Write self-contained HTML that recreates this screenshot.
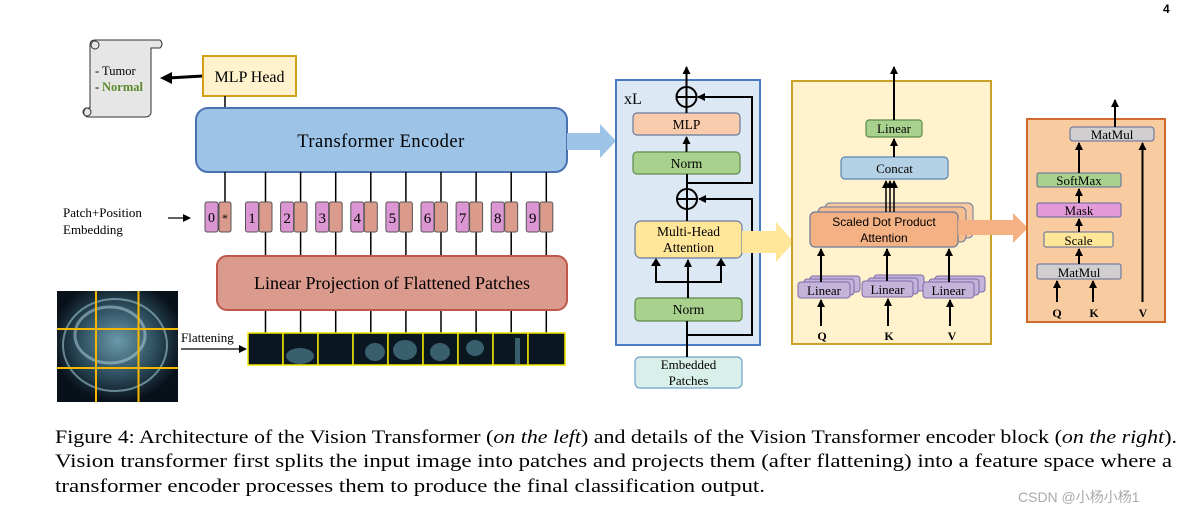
<!DOCTYPE html>
<html><head><meta charset="utf-8"><style>
html,body{margin:0;padding:0;background:#fff;}
svg{display:block;}
text{font-family:"Liberation Serif",serif;}
text.s{font-family:"Liberation Sans","Noto Sans CJK SC",sans-serif;}
</style></head><body>
<svg width="1190" height="514" viewBox="0 0 1190 514" xmlns="http://www.w3.org/2000/svg">
<defs>
<marker id="ah" markerWidth="8" markerHeight="8" refX="7" refY="4" orient="auto" markerUnits="userSpaceOnUse"><path d="M0,0 L8,4 L0,8 z" fill="#000"/></marker>
<radialGradient id="brain" cx="0.5" cy="0.45" r="0.55"><stop offset="0" stop-color="#6a9aab"/><stop offset="0.6" stop-color="#2b4a5a"/><stop offset="1" stop-color="#08111a"/></radialGradient>
</defs>
<text class="s" x="1163" y="13" font-size="12" font-weight="bold">4</text>

<path d="M95,40 L160,40 Q164,44 160,48 L151,48 L151,113 Q150,117 145,117 L87,117 Q81,113 86,108 L90,108 L90,45 Q90,40 95,40 z" fill="#e6e6e6" stroke="#333" stroke-width="1"/>
<circle cx="95" cy="45" r="4" fill="none" stroke="#333"/><circle cx="87" cy="112" r="4" fill="none" stroke="#333"/>
<text x="95" y="75" font-size="12.5">- Tumor</text>
<text x="95" y="91" font-size="12.5">- </text><text x="102" y="91" font-size="12.5" font-weight="bold" fill="#5a8a2a">Normal</text>
<line x1="203" y1="76" x2="168" y2="78" stroke="#000" stroke-width="3"/>
<path d="M160,78 L172,72 L172,84 z" fill="#000"/>
<rect x="203" y="56" width="93" height="40" fill="#fff2cc" stroke="#d4a017" stroke-width="2"/>
<text x="249.5" y="82" font-size="16" text-anchor="middle">MLP Head</text>
<line x1="225" y1="96" x2="225" y2="108" stroke="#000" stroke-width="1.5"/>
<rect x="196" y="108" width="371" height="64" rx="12" fill="#9dc3e6" stroke="#4a72b0" stroke-width="2"/>
<text x="381" y="147" font-size="18.5" text-anchor="middle" letter-spacing="0.5">Transformer Encoder</text>
<path d="M567,133 L600,133 L600,124 L616,141 L600,158 L600,150 L567,150 z" fill="#9dc3e6"/>
<g stroke="#000" stroke-width="1.5">
<line x1="225" y1="172" x2="225" y2="202"/>
<line x1="265.5" y1="172" x2="265.5" y2="333"/><line x1="300.6" y1="172" x2="300.6" y2="333"/><line x1="335.7" y1="172" x2="335.7" y2="333"/><line x1="370.8" y1="172" x2="370.8" y2="333"/><line x1="405.9" y1="172" x2="405.9" y2="333"/><line x1="441" y1="172" x2="441" y2="333"/><line x1="476.1" y1="172" x2="476.1" y2="333"/><line x1="511.2" y1="172" x2="511.2" y2="333"/><line x1="546.3" y1="172" x2="546.3" y2="333"/>
</g>
<g stroke="#555" stroke-width="1">
<rect x="205" y="202" width="13" height="30" rx="2" fill="#dc96d4"/><rect x="219" y="202" width="12" height="30" rx="2" fill="#da9a8c"/>
</g>
<text x="211.5" y="222" font-size="14" text-anchor="middle">0</text><text x="225" y="222" font-size="12" text-anchor="middle">*</text>
<g stroke="#555" stroke-width="1">
<rect x="245.5" y="202" width="13" height="30" rx="2" fill="#dc96d4"/><rect x="259" y="202" width="13" height="30" rx="2" fill="#da9a8c"/>
<rect x="280.6" y="202" width="13" height="30" rx="2" fill="#dc96d4"/><rect x="294.1" y="202" width="13" height="30" rx="2" fill="#da9a8c"/>
<rect x="315.7" y="202" width="13" height="30" rx="2" fill="#dc96d4"/><rect x="329.2" y="202" width="13" height="30" rx="2" fill="#da9a8c"/>
<rect x="350.8" y="202" width="13" height="30" rx="2" fill="#dc96d4"/><rect x="364.3" y="202" width="13" height="30" rx="2" fill="#da9a8c"/>
<rect x="385.9" y="202" width="13" height="30" rx="2" fill="#dc96d4"/><rect x="399.4" y="202" width="13" height="30" rx="2" fill="#da9a8c"/>
<rect x="421" y="202" width="13" height="30" rx="2" fill="#dc96d4"/><rect x="434.5" y="202" width="13" height="30" rx="2" fill="#da9a8c"/>
<rect x="456.1" y="202" width="13" height="30" rx="2" fill="#dc96d4"/><rect x="469.6" y="202" width="13" height="30" rx="2" fill="#da9a8c"/>
<rect x="491.2" y="202" width="13" height="30" rx="2" fill="#dc96d4"/><rect x="504.7" y="202" width="13" height="30" rx="2" fill="#da9a8c"/>
<rect x="526.3" y="202" width="13" height="30" rx="2" fill="#dc96d4"/><rect x="539.8" y="202" width="13" height="30" rx="2" fill="#da9a8c"/>
</g>
<g font-size="15" text-anchor="middle">
<text x="252" y="223">1</text><text x="287.1" y="223">2</text><text x="322.2" y="223">3</text><text x="357.3" y="223">4</text><text x="392.4" y="223">5</text><text x="427.5" y="223">6</text><text x="462.6" y="223">7</text><text x="497.7" y="223">8</text><text x="532.8" y="223">9</text>
</g>
<text x="63" y="217" font-size="13">Patch+Position</text>
<text x="63" y="234" font-size="13">Embedding</text>
<line x1="168" y1="218" x2="190" y2="218" stroke="#000" stroke-width="1.3" marker-end="url(#ah)"/>
<rect x="217" y="256" width="350" height="54" rx="10" fill="#da9a8e" stroke="#c0574a" stroke-width="2"/>
<text x="392" y="289" font-size="18" text-anchor="middle">Linear Projection of Flattened Patches</text>
<rect x="57" y="291" width="121" height="111" fill="url(#brain)"/>
<ellipse cx="115" cy="345" rx="52" ry="46" fill="none" stroke="#9cc7d4" stroke-width="2" opacity="0.6"/>
<ellipse cx="110" cy="335" rx="35" ry="28" fill="none" stroke="#b7d8e2" stroke-width="3" opacity="0.5"/>
<g stroke="#f5b800" stroke-width="2"><line x1="96" y1="291" x2="96" y2="402"/><line x1="138.5" y1="291" x2="138.5" y2="402"/><line x1="57" y1="329" x2="178" y2="329"/><line x1="57" y1="368" x2="178" y2="368"/></g>
<text x="181" y="342" font-size="13">Flattening</text>
<line x1="181" y1="349" x2="246" y2="349" stroke="#000" stroke-width="1.3" marker-end="url(#ah)"/>
<g fill="#0a1620" stroke="#f2e600" stroke-width="1.5">
<rect x="248" y="333" width="35" height="32"/><rect x="283" y="333" width="35" height="32"/><rect x="318" y="333" width="35" height="32"/><rect x="353" y="333" width="35" height="32"/><rect x="388" y="333" width="35" height="32"/><rect x="423" y="333" width="35" height="32"/><rect x="458" y="333" width="35" height="32"/><rect x="493" y="333" width="35" height="32"/><rect x="528" y="333" width="37" height="32"/>
</g>
<g fill="#4d7f90" opacity="0.7"><ellipse cx="300" cy="356" rx="14" ry="8"/><ellipse cx="405" cy="350" rx="12" ry="10"/><ellipse cx="440" cy="352" rx="10" ry="9"/><ellipse cx="475" cy="348" rx="9" ry="8"/><rect x="515" y="338" width="5" height="26"/><ellipse cx="375" cy="352" rx="10" ry="9"/></g>

<rect x="616" y="80" width="144" height="265" fill="#dde8f5" stroke="#4a7cc4" stroke-width="2"/>
<text x="624" y="104" font-size="16">xL</text>
<rect x="633" y="113" width="107" height="22" rx="4" fill="#f8cbad" stroke="#6a7a9a" stroke-width="1.2"/>
<text x="686.5" y="129" font-size="13.5" text-anchor="middle">MLP</text>
<rect x="633" y="152" width="107" height="22" rx="4" fill="#a9d18e" stroke="#5d8a4a" stroke-width="1.2"/>
<text x="686.5" y="168" font-size="13.5" text-anchor="middle">Norm</text>
<rect x="635" y="221" width="107" height="37" rx="6" fill="#ffe699" stroke="#6a7a9a" stroke-width="1.2"/>
<text x="688.5" y="236" font-size="13.5" text-anchor="middle">Multi-Head</text>
<text x="688.5" y="252" font-size="13.5" text-anchor="middle">Attention</text>
<rect x="635" y="298" width="107" height="23" rx="4" fill="#a9d18e" stroke="#5d8a4a" stroke-width="1.2"/>
<text x="688.5" y="314" font-size="13.5" text-anchor="middle">Norm</text>
<rect x="635" y="357" width="107" height="31" rx="5" fill="#d9efe9" stroke="#6fa0c8" stroke-width="1.2"/>
<text x="688.5" y="369" font-size="13" text-anchor="middle">Embedded</text>
<text x="688.5" y="385" font-size="13" text-anchor="middle">Patches</text>
<g stroke="#000" stroke-width="2" fill="none">
<circle cx="686.5" cy="97" r="10"/><line x1="676.5" y1="97" x2="696.5" y2="97"/><line x1="686.5" y1="87" x2="686.5" y2="107"/>
<circle cx="687" cy="199" r="10"/><line x1="677" y1="199" x2="697" y2="199"/><line x1="687" y1="189" x2="687" y2="209"/>
<line x1="686.5" y1="87" x2="686.5" y2="67" marker-end="url(#ah)"/>
<line x1="686.5" y1="113" x2="686.5" y2="107"/>
<line x1="686.5" y1="152" x2="686.5" y2="137" marker-end="url(#ah)"/>
<line x1="687" y1="174" x2="687" y2="189"/>
<polyline points="687,183 752,183 752,97 698,97" marker-end="url(#ah)"/>
<line x1="687" y1="209" x2="687" y2="221"/>
<line x1="687" y1="357" x2="687" y2="321"/>
<polyline points="687,335 752,335 752,199 699,199" marker-end="url(#ah)"/>
<line x1="688" y1="298" x2="688" y2="260" marker-end="url(#ah)"/>
<polyline points="656,262 656,282 721,282 721,262"/>
</g>
<path d="M656,258 L651,266 L661,266 z M721,258 L716,266 L726,266 z" fill="#000"/>
<path d="M742,231 L776,231 L776,222 L794,242 L776,262 L776,253 L742,253 z" fill="#ffe699"/>

<rect x="792" y="81" width="199" height="263" fill="#fff2cc" stroke="#c9a227" stroke-width="2"/>
<rect x="866" y="120" width="56" height="17" rx="3" fill="#a9d18e" stroke="#5d8a4a" stroke-width="1.2"/>
<text x="894" y="133" font-size="13" text-anchor="middle">Linear</text>
<rect x="841" y="157" width="107" height="22" rx="4" fill="#b4d0e4" stroke="#5a85b5" stroke-width="1.2"/>
<text x="894.5" y="173" font-size="13" text-anchor="middle">Concat</text>
<rect x="825" y="203" width="148" height="35" rx="5" fill="#f8c9a0" stroke="#6a7a9a" stroke-width="1"/>
<rect x="818" y="207" width="148" height="35" rx="5" fill="#f6bd8f" stroke="#6a7a9a" stroke-width="1"/>
<rect x="810" y="212" width="148" height="35" rx="5" fill="#f4b183" stroke="#6a7a9a" stroke-width="1.2"/>
<text class="s" x="884" y="226" font-size="12" text-anchor="middle">Scaled Dot Product</text>
<text class="s" x="884" y="242" font-size="12" text-anchor="middle">Attention</text>
<g fill="#c5b4d9" stroke="#7b6aa8" stroke-width="1">
<rect x="810" y="276" width="50" height="16" rx="3"/><rect x="804" y="279" width="50" height="16" rx="3"/><rect x="798" y="282" width="52" height="16" rx="3"/>
<rect x="874" y="275" width="50" height="16" rx="3"/><rect x="868" y="278" width="50" height="16" rx="3"/><rect x="862" y="281" width="51" height="16" rx="3"/>
<rect x="935" y="276" width="50" height="16" rx="3"/><rect x="929" y="279" width="50" height="16" rx="3"/><rect x="923" y="282" width="51" height="16" rx="3"/>
</g>
<g font-size="13" text-anchor="middle"><text x="824" y="295">Linear</text><text x="887.5" y="294">Linear</text><text x="948.5" y="295">Linear</text></g>
<g font-size="12" font-weight="bold" text-anchor="middle"><text x="822" y="340">Q</text><text x="889" y="340">K</text><text x="952" y="340">V</text></g>
<g stroke="#000" stroke-width="2" fill="none">
<line x1="894" y1="120" x2="894" y2="67" marker-end="url(#ah)"/>
<line x1="894" y1="157" x2="894" y2="139" marker-end="url(#ah)"/>
<line x1="886" y1="212" x2="886" y2="181" marker-end="url(#ah)" stroke-width="1.5"/>
<line x1="890" y1="212" x2="890" y2="181" marker-end="url(#ah)" stroke-width="1.5"/>
<line x1="894" y1="212" x2="894" y2="181" marker-end="url(#ah)" stroke-width="1.5"/>
<line x1="821" y1="282" x2="821" y2="249" marker-end="url(#ah)"/>
<line x1="887" y1="281" x2="887" y2="249" marker-end="url(#ah)"/>
<line x1="949" y1="282" x2="949" y2="249" marker-end="url(#ah)"/>
<line x1="821" y1="326" x2="821" y2="300" marker-end="url(#ah)"/>
<line x1="888" y1="326" x2="888" y2="299" marker-end="url(#ah)"/>
<line x1="950" y1="326" x2="950" y2="300" marker-end="url(#ah)"/>
</g>
<path d="M958,220 L1013,220 L1013,213 L1028,228 L1013,243 L1013,235 L958,235 z" fill="#f4b183"/>

<rect x="1027" y="119" width="138" height="203" fill="#f8cba0" stroke="#d06a2c" stroke-width="2"/>
<rect x="1070" y="127" width="84" height="14" rx="3" fill="#d0cece" stroke="#5a6a9a" stroke-width="1"/>
<text x="1112" y="139" font-size="13" text-anchor="middle">MatMul</text>
<rect x="1037" y="173" width="84" height="14" rx="2" fill="#a9d18e" stroke="#5a6a9a" stroke-width="1"/>
<text x="1079" y="185" font-size="13" text-anchor="middle">SoftMax</text>
<rect x="1037" y="203" width="84" height="14" rx="2" fill="#e39ad8" stroke="#5a6a9a" stroke-width="1"/>
<text x="1079" y="215" font-size="13" text-anchor="middle">Mask</text>
<rect x="1044" y="232" width="69" height="15" rx="2" fill="#ffe699" stroke="#5a6a9a" stroke-width="1"/>
<text x="1078.5" y="245" font-size="13" text-anchor="middle">Scale</text>
<rect x="1037" y="264" width="84" height="15" rx="2" fill="#d0cece" stroke="#5a6a9a" stroke-width="1"/>
<text x="1079" y="277" font-size="13" text-anchor="middle">MatMul</text>
<g font-size="12" font-weight="bold" text-anchor="middle"><text x="1057" y="317">Q</text><text x="1094" y="317">K</text><text x="1143" y="317">V</text></g>
<g stroke="#000" stroke-width="2" fill="none">
<line x1="1115" y1="127" x2="1115" y2="100" marker-end="url(#ah)"/>
<line x1="1079" y1="173" x2="1079" y2="143" marker-end="url(#ah)"/>
<line x1="1079" y1="203" x2="1079" y2="189" marker-end="url(#ah)"/>
<line x1="1079" y1="232" x2="1079" y2="219" marker-end="url(#ah)"/>
<line x1="1079" y1="264" x2="1079" y2="249" marker-end="url(#ah)"/>
<line x1="1142.5" y1="302" x2="1142.5" y2="143" marker-end="url(#ah)"/>
<line x1="1057" y1="302" x2="1057" y2="281" marker-end="url(#ah)"/>
<line x1="1093" y1="302" x2="1093" y2="281" marker-end="url(#ah)"/>
</g>

<g font-size="18.5">
<text x="55" y="443" textLength="1122" lengthAdjust="spacingAndGlyphs">Figure 4: Architecture of the Vision Transformer (<tspan font-style="italic">on the left</tspan>) and details of the Vision Transformer encoder block (<tspan font-style="italic">on the right</tspan>).</text>
<text x="55" y="467" textLength="1117" lengthAdjust="spacingAndGlyphs">Vision transformer first splits the input image into patches and projects them (after flattening) into a feature space where a</text>
<text x="55" y="492" textLength="710" lengthAdjust="spacingAndGlyphs">transformer encoder processes them to produce the final classification output.</text>
</g>
<text class="s" x="1018" y="502" font-size="14" fill="#aaa">CSDN @小杨小杨1</text>
</svg>
</body></html>
